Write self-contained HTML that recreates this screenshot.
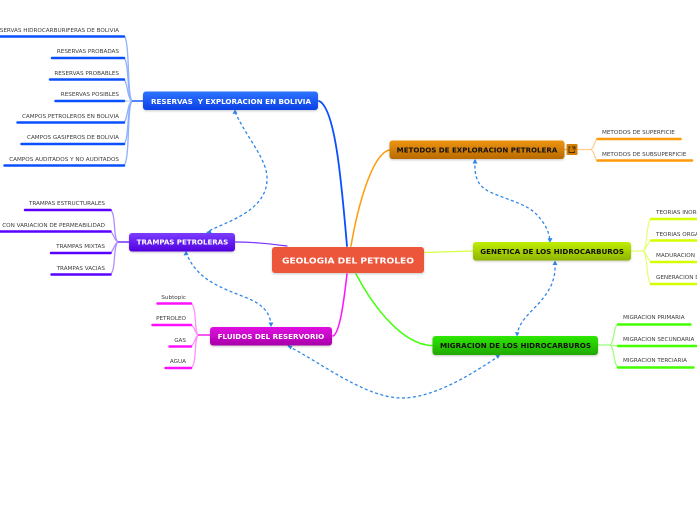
<!DOCTYPE html>
<html><head><meta charset="utf-8"><style>
html,body{margin:0;padding:0;background:#fff;width:697px;height:520px;overflow:hidden}
svg{display:block}
.s{font:5.65px "DejaVu Sans",sans-serif;fill:#3c3c3c}
.e{text-anchor:end}
.n{font:bold 6.7px "DejaVu Sans",sans-serif}
.w{fill:#fff}.k{fill:#111}
.d{fill:none;stroke:#2f86e8;stroke-width:1.3;stroke-dasharray:3 2.5}
.a{fill:#2f86e8}
</style></head><body>
<svg width="697" height="520" viewBox="0 0 697 520" xmlns="http://www.w3.org/2000/svg">
<defs>
<linearGradient id="gb" x1="0" y1="0" x2="0" y2="1"><stop offset="0" stop-color="#2f74ff"/><stop offset="1" stop-color="#0a3fe6"/></linearGradient>
<linearGradient id="gp" x1="0" y1="0" x2="0" y2="1"><stop offset="0" stop-color="#7a3dff"/><stop offset="1" stop-color="#5200e0"/></linearGradient>
<linearGradient id="gm" x1="0" y1="0" x2="0" y2="1"><stop offset="0" stop-color="#e010e0"/><stop offset="1" stop-color="#a800a8"/></linearGradient>
<linearGradient id="go" x1="0" y1="0" x2="0" y2="1"><stop offset="0" stop-color="#ee9410"/><stop offset="1" stop-color="#b86a00"/></linearGradient>
<linearGradient id="gy" x1="0" y1="0" x2="0" y2="1"><stop offset="0" stop-color="#c0ee00"/><stop offset="1" stop-color="#8fb400"/></linearGradient>
<linearGradient id="gg" x1="0" y1="0" x2="0" y2="1"><stop offset="0" stop-color="#2ee800"/><stop offset="1" stop-color="#1fa800"/></linearGradient>
<filter id="sh" x="-5%" y="-20%" width="110%" height="150%"><feDropShadow dx="0" dy="1" stdDeviation="1" flood-color="#000" flood-opacity=".22"/></filter>
</defs>

<!-- main branches -->
<g fill="none" stroke-linecap="round">
<path d="M347 246 C342 190 336 108 319 101" stroke="#0a50ff" stroke-width="1.8"/>
<path d="M351 246 C358 205 372 155 389 150" stroke="#ff9a0a" stroke-width="1.5"/>
<path d="M424 252.500 C440 252 458 251.500 473 251" stroke="#d8ff40" stroke-width="1.2"/>
<path d="M356 274 C376 312 405 345 432 345.500" stroke="#44ff10" stroke-width="1.5"/>
<path d="M347 274 C344 300 340 333 333 336" stroke="#ff10ff" stroke-width="1.5"/>
<path d="M235 242 C255 242 270 244 287 246" stroke="#7a30ff" stroke-width="1.2"/>
</g>

<!-- sub branches -->
<g fill="none" stroke-width="1.3">
<g stroke="#8eb0ff">
<path d="M124 36 C130 40 127 96 132 101"/><path d="M124 58 C129 62 127 96 132 101"/><path d="M124 79.500 C128 83 127 98 132 101"/><path d="M124 101 H132" stroke="#c5d5ff"/><path d="M124 122 C128 119 127 104 132 101"/><path d="M124 144 C129 140 127 106 132 101"/><path d="M124 165 C130 161 127 106 132 101"/>
</g>
<path d="M132 101 H143" stroke="#0a50ff" stroke-width="1.4"/>
<g stroke="#b08eff">
<path d="M110.500 210 C116 213 113 238 118 242"/><path d="M110.500 231.500 C114 234 114 240 118 242"/><path d="M110.500 253 C114 250 114 244 118 242"/><path d="M110.500 274 C116 271 113 246 118 242"/>
</g>
<path d="M118 242 H129" stroke="#6a20ff" stroke-width="1.4"/>
<g stroke="#ff90ff">
<path d="M191 303.500 C197 306 194 331 198 335"/><path d="M191 325 C195 327 195 333 198 335"/><path d="M191 346 C195 344 195 337 198 335"/><path d="M191 368 C197 365 194 339 198 335"/>
</g>
<path d="M198 335 H210" stroke="#f010f0" stroke-width="1.4"/>
<g stroke="#ffcf90">
<path d="M597 139 C594 141 595 147 591 149.500 H577"/><path d="M597 160.500 C594 158 595 152 591 149.500"/>
</g>
<path d="M564 149.500 H567" stroke="#ffb040"/>
<g stroke="#e4ff80">
<path d="M651 219 C646 222 648 247 643 251"/><path d="M651 240.500 C647 243 647 249 643 251"/><path d="M651 262 C647 259 647 253 643 251"/><path d="M651 284 C646 280 648 255 643 251"/><path d="M631 251 H643"/>
</g>
<g stroke="#a0ff80">
<path d="M618 324 C613 327 615 341 610 345"/><path d="M618 345.500 H610"/><path d="M618 367 C613 364 615 349 610 345"/><path d="M598 345 H610"/>
</g>
</g>

<!-- underlines -->
<g stroke-width="2.5" stroke-linecap="round" fill="none">
<g stroke="#0a50ff">
<path d="M-5 36.500 H124"/><path d="M52 58 H124"/><path d="M50 79.500 H124"/><path d="M55.500 101 H124"/><path d="M17.500 122.500 H124"/><path d="M21.500 144 H124"/><path d="M4.500 165.500 H124"/>
</g>
<g stroke="#5a00ff">
<path d="M25 210 H110.500"/><path d="M-5 231.500 H110.500"/><path d="M51 253 H110.500"/><path d="M51.500 274.500 H110.500"/>
</g>
<g stroke="#ff10ff">
<path d="M157.500 303.500 H191"/><path d="M152.500 325 H191"/><path d="M169.500 346.500 H191"/><path d="M165.500 368 H191"/>
</g>
<g stroke="#ff9a0a">
<path d="M597.500 139 H680.500"/><path d="M597.500 160.500 H692"/>
</g>
<g stroke="#d4ff00">
<path d="M651 219 H702"/><path d="M651 240.500 H702"/><path d="M651 262 H702"/><path d="M651 284 H702"/>
</g>
<g stroke="#44ff00">
<path d="M618 324.500 H690.500"/><path d="M618 346 H702"/><path d="M618 367.500 H693.500"/>
</g>
</g>

<!-- dashed relationships -->
<path class="d" d="M235 112 C248 140 268 160 267 180 C266 212 225 222 207 232"/>
<path class="d" d="M186 252 C196 280 222 288 247 298 C262 304 270 312 271 325"/>
<path class="d" d="M475 160 C474 178 478 186 490 192 C510 201 528 204 538 216 C546 225 549 232 550 241"/>
<path class="d" d="M555 262 C556 280 550 290 540 302 C528 315 519 322 517 335"/>
<path class="d" d="M288 346 C320 362 365 398 402 398 C435 398 475 372 499 356"/>
<polygon class="a" points="235,109.500 232.500,114 237.500,113.500"/>
<polygon class="a" points="206,233 210.500,229.500 211.500,233"/>
<polygon class="a" points="186,251 183.500,255.500 188.500,255"/>
<polygon class="a" points="271,327 268.500,322.500 273.500,322.500"/>
<polygon class="a" points="475,159 472.500,163.500 477.500,163.500"/>
<polygon class="a" points="550,243 547.500,238.500 552.500,238"/>
<polygon class="a" points="555,260.500 552.500,265 557.500,265"/>
<polygon class="a" points="517,336.500 515,332 519.500,332.500"/>
<polygon class="a" points="287.500,345.500 292.500,346 290.500,349.500"/>
<polygon class="a" points="500,354.500 495.500,355.500 498,359"/>

<!-- nodes -->
<g filter="url(#sh)">
<rect x="272" y="247" width="152" height="26" rx="3" fill="#ec573b"/>
<rect x="143" y="91.500" width="175" height="18.500" rx="3" fill="url(#gb)"/>
<rect x="129" y="233" width="106" height="18.500" rx="3" fill="url(#gp)"/>
<rect x="210" y="327" width="122" height="18.500" rx="3" fill="url(#gm)"/>
<rect x="389.500" y="140.500" width="175" height="18.500" rx="3" fill="url(#go)"/>
<rect x="473" y="242" width="158" height="18.500" rx="3" fill="url(#gy)"/>
<rect x="432.500" y="336" width="165.500" height="19" rx="3" fill="url(#gg)"/>
</g>
<text class="n w" x="282" y="263.500" style="font-size:8.200px" textLength="132" lengthAdjust="spacingAndGlyphs">GEOLOGIA DEL PETROLEO</text>
<text class="n w" x="151" y="104" textLength="160" lengthAdjust="spacingAndGlyphs">RESERVAS&#160; Y EXPLORACION EN BOLIVIA</text>
<text class="n w" x="136.700" y="244.700" textLength="91.500" lengthAdjust="spacingAndGlyphs">TRAMPAS PETROLERAS</text>
<text class="n w" x="217.700" y="339" textLength="106.500" lengthAdjust="spacingAndGlyphs">FLUIDOS DEL RESERVORIO</text>
<text class="n k" x="396.700" y="152.700" textLength="160.600" lengthAdjust="spacingAndGlyphs">METODOS DE EXPLORACION PETROLERA</text>
<text class="n k" x="480.300" y="254" textLength="143.700" lengthAdjust="spacingAndGlyphs">GENETICA DE LOS HIDROCARBUROS</text>
<text class="n k" x="440" y="348" textLength="151" lengthAdjust="spacingAndGlyphs">MIGRACION DE LOS HIDROCARBUROS</text>

<!-- link icon -->
<rect x="566.500" y="144" width="11" height="11" rx="1" fill="#d27e04"/>
<path d="M570.500 147 H569 V152.500 H574.500 V150.500 M572 146.800 H575 V149.800 M575 146.800 L572.500 149.300" fill="none" stroke="#4a2f00" stroke-width=".9"/>

<!-- labels -->
<g class="s">
<text class="s e" x="119" y="32">RESERVAS HIDROCARBURIFERAS DE BOLIVIA</text>
<text class="s e" x="119" y="53">RESERVAS PROBADAS</text>
<text class="s e" x="119" y="75">RESERVAS PROBABLES</text>
<text class="s e" x="119" y="96">RESERVAS POSIBLES</text>
<text class="s e" x="119" y="118">CAMPOS PETROLEROS EN BOLIVIA</text>
<text class="s e" x="119" y="139">CAMPOS GASIFEROS DE BOLIVIA</text>
<text class="s e" x="119" y="161">CAMPOS AUDITADOS Y NO AUDITADOS</text>
<text class="s e" x="105" y="205">TRAMPAS ESTRUCTURALES</text>
<text class="s e" x="105" y="227">CON VARIACION DE PERMEABILIDAD</text>
<text class="s e" x="105" y="248">TRAMPAS MIXTAS</text>
<text class="s e" x="105" y="270">TRAMPAS VACIAS</text>
<text class="s e" x="186" y="299">Subtopic</text>
<text class="s e" x="186" y="320">PETROLEO</text>
<text class="s e" x="186" y="342">GAS</text>
<text class="s e" x="186" y="363">AGUA</text>
<text class="s" x="602" y="134">METODOS DE SUPERFICIE</text>
<text class="s" x="602" y="156">METODOS DE SUBSUPERFICIE</text>
<text class="s" x="656" y="214">TEORIAS INORGANICAS</text>
<text class="s" x="656" y="236">TEORIAS ORGANICAS</text>
<text class="s" x="656" y="257">MADURACION DEL KEROGENO</text>
<text class="s" x="656" y="279">GENERACION DE HIDROCARBUROS</text>
<text class="s" x="623" y="319">MIGRACION PRIMARIA</text>
<text class="s" x="623" y="341">MIGRACION SECUNDARIA</text>
<text class="s" x="623" y="362">MIGRACION TERCIARIA</text>
</g>
</svg>
</body></html>
